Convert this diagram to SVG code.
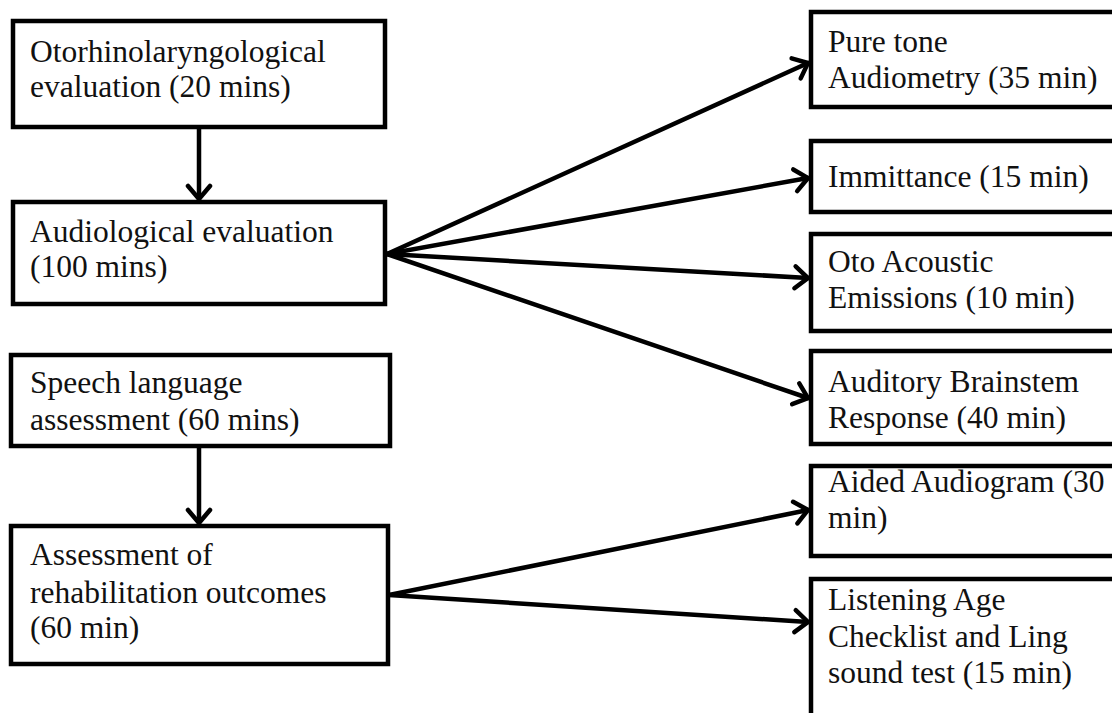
<svg xmlns="http://www.w3.org/2000/svg" width="1112" height="713" viewBox="0 0 1112 713">
<style>
.box{fill:#fff;stroke:#000;stroke-width:4.5}
.t{font-family:"Liberation Serif","Times New Roman",serif;font-size:31.5px;fill:#111}
.c{stroke:#000;stroke-width:4.5;fill:none;stroke-linecap:round}
</style>
<defs>
<marker id="ah" markerUnits="userSpaceOnUse" viewBox="0 0 20 28" markerWidth="20" markerHeight="28" refX="17" refY="14" orient="auto">
<path d="M4,3 L17,14 L4,25" fill="none" stroke="#000" stroke-width="4.5" stroke-linecap="round" stroke-linejoin="miter"/>
</marker>
</defs>
<rect width="1112" height="713" fill="#fff"/>
<g id="connectors">
<line class="c" x1="199" y1="129" x2="199" y2="199" marker-end="url(#ah)"/>
<line class="c" x1="199" y1="448" x2="199" y2="523" marker-end="url(#ah)"/>
<line class="c" x1="387" y1="254" x2="808" y2="63" marker-end="url(#ah)"/>
<line class="c" x1="387" y1="254" x2="808" y2="178" marker-end="url(#ah)"/>
<line class="c" x1="387" y1="254" x2="808" y2="278" marker-end="url(#ah)"/>
<line class="c" x1="387" y1="254" x2="808" y2="398" marker-end="url(#ah)"/>
<line class="c" x1="389" y1="595" x2="808" y2="510" marker-end="url(#ah)"/>
<line class="c" x1="389" y1="595" x2="808" y2="622" marker-end="url(#ah)"/>
</g>
<g id="oto">
<rect class="box" x="13" y="21" width="372" height="106"/>
<text class="t" x="30" y="62">Otorhinolaryngological</text>
<text class="t" x="30" y="97">evaluation (20 mins)</text>
</g>
<g id="audio">
<rect class="box" x="13" y="202" width="372" height="102"/>
<text class="t" x="30" y="242">Audiological evaluation</text>
<text class="t" x="30" y="277">(100 mins)</text>
</g>
<g id="speech">
<rect class="box" x="11" y="355" width="379" height="91"/>
<text class="t" x="30" y="393">Speech language</text>
<text class="t" x="30" y="430">assessment (60 mins)</text>
</g>
<g id="rehab">
<rect class="box" x="11" y="526" width="377" height="138"/>
<text class="t" x="30" y="565">Assessment of</text>
<text class="t" x="30" y="603">rehabilitation outcomes</text>
<text class="t" x="30" y="638">(60 min)</text>
</g>
<g id="puretone">
<rect class="box" x="811" y="12" width="320" height="95"/>
<text class="t" x="828" y="52">Pure tone</text>
<text class="t" x="828" y="88">Audiometry (35 min)</text>
</g>
<g id="immittance">
<rect class="box" x="811" y="141" width="320" height="71"/>
<text class="t" x="828" y="187">Immittance (15 min)</text>
</g>
<g id="oae">
<rect class="box" x="811" y="234" width="320" height="97"/>
<text class="t" x="828" y="272">Oto Acoustic</text>
<text class="t" x="828" y="308">Emissions (10 min)</text>
</g>
<g id="abr">
<rect class="box" x="811" y="351" width="320" height="93"/>
<text class="t" x="828" y="392">Auditory Brainstem</text>
<text class="t" x="828" y="428">Response (40 min)</text>
</g>
<g id="aided">
<rect class="box" x="811" y="466" width="320" height="90"/>
<text class="t" x="828" y="492">Aided Audiogram (30</text>
<text class="t" x="828" y="528">min)</text>
</g>
<g id="listening">
<rect class="box" x="811" y="579" width="320" height="160"/>
<text class="t" x="828" y="610">Listening Age</text>
<text class="t" x="828" y="647">Checklist and Ling</text>
<text class="t" x="828" y="683">sound test (15 min)</text>
</g>
</svg>
